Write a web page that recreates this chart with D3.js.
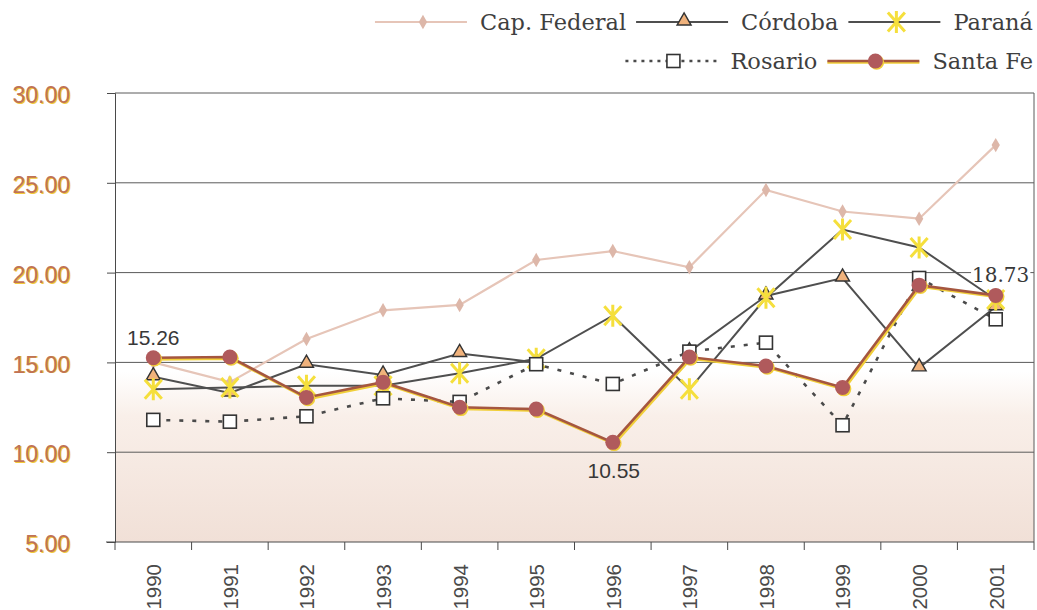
<!DOCTYPE html>
<html>
<head>
<meta charset="utf-8">
<script src="https://cdn.jsdelivr.net/npm/d3@7"></script>
<style>
  body { margin: 0; background: #fff; }
  svg { display: block; }
</style>
</head>
<body>
<svg id="chart" width="1037" height="610"></svg>
<script>
// Yearly values per city, 1990–2001
const years = ["1990", "1991", "1992", "1993", "1994", "1995", "1996", "1997", "1998", "1999", "2000", "2001"];
const capFederal = [15.0, 13.9, 16.3, 17.9, 18.2, 20.7, 21.2, 20.3, 24.6, 23.4, 23.0, 27.1];
const cordoba    = [14.2, 13.3, 14.9, 14.3, 15.5, 15.0, null, 15.6, 18.7, 19.7, 14.7, 18.1];
const parana     = [13.5, 13.6, 13.7, 13.7, 14.4, 15.2, 17.6, 13.5, 18.6, 22.4, 21.4, 18.5];
const rosario    = [11.8, 11.7, 12.0, 13.0, 12.8, 14.9, 13.8, 15.6, 16.1, 11.5, 19.7, 17.4];
const santaFe    = [15.26, 15.30, 13.05, 13.9, 12.5, 12.4, 10.55, 15.3, 14.8, 13.6, 19.3, 18.73];
const yTicks = [5, 10, 15, 20, 25, 30];
const labelledPoints = ["1990", "1996", "2001"];   // Santa Fe values printed on the chart

const svg = d3.select("#chart");
const plot = { left: 115, right: 1034, top: 93, bottom: 542 };

const x = d3.scalePoint().domain(years).range([plot.left, plot.right]).padding(0.5);
const band = d3.scaleBand().domain(years).range([plot.left, plot.right]);
const y = d3.scaleLinear().domain([5, 30]).range([plot.bottom, plot.top]);

// background shading of the plot area
const defs = svg.append("defs");
const grad = defs.append("linearGradient").attr("id", "plotBg")
  .attr("gradientUnits", "userSpaceOnUse")
  .attr("x1", 0).attr("x2", 0).attr("y1", plot.top).attr("y2", plot.bottom);
grad.append("stop").attr("offset", 0).attr("stop-color", "#ffffff");
grad.append("stop").attr("offset", 0.62).attr("stop-color", "#ffffff");
grad.append("stop").attr("offset", 0.72).attr("stop-color", "#f9efe9");
grad.append("stop").attr("offset", 1).attr("stop-color", "#f1e0d7");

svg.append("rect")
  .attr("x", plot.left).attr("y", plot.top)
  .attr("width", plot.right - plot.left).attr("height", plot.bottom - plot.top)
  .attr("fill", "url(#plotBg)");

// horizontal gridlines
svg.append("g").selectAll("line")
  .data(yTicks.filter(d => d > 5 && d < 30))
  .join("line")
  .attr("x1", plot.left).attr("x2", plot.right)
  .attr("y1", d => y(d)).attr("y2", d => y(d))
  .attr("stroke", "#5a5a5a").attr("stroke-width", 1);

// top and right frame
svg.append("path")
  .attr("d", `M${plot.left},${y(30)}H${plot.right}V${plot.bottom}`)
  .attr("fill", "none").attr("stroke", "#5a5a5a").attr("stroke-width", 1);

// y axis
const yAxis = svg.append("g")
  .attr("transform", `translate(${plot.left},0)`)
  .call(d3.axisLeft(y).tickValues(yTicks).tickFormat(d3.format(".2f")).tickSize(8).tickPadding(37));
yAxis.select(".domain").attr("stroke", "#4a4a4a");
yAxis.selectAll(".tick line").attr("stroke", "#4a4a4a");
yAxis.selectAll(".tick text")
  .attr("font-family", "Liberation Sans, Arial, sans-serif")
  .attr("font-size", 23)
  .attr("dy", "0.42em")
  .attr("fill", "#c07256")
  .each(function () {
    const c = this.cloneNode(true);
    d3.select(c).attr("fill", "#f2c93a").attr("transform", "translate(1.4,0.8)");
    this.parentNode.insertBefore(c, this);
  });

// x axis: labels at the points, ticks at the category boundaries
const xAxis = svg.append("g")
  .attr("transform", `translate(0,${plot.bottom})`)
  .call(d3.axisBottom(x).tickSize(0).tickPadding(0));
xAxis.select(".domain").remove();
xAxis.append("line")
  .attr("x1", plot.left - 9).attr("x2", plot.right)
  .attr("stroke", "#4a4a4a");
xAxis.selectAll(".tick text")
  .attr("font-family", "Liberation Sans, Arial, sans-serif")
  .attr("font-size", 20.5)
  .attr("fill", "#4a4a4a")
  .attr("text-anchor", "end")
  .attr("transform", "rotate(-90)")
  .attr("x", -22).attr("y", 0).attr("dy", "0.36em");
xAxis.append("g").selectAll("line")
  .data(years.map(d => band(d)).concat([plot.right]))
  .join("line")
  .attr("x1", d => d).attr("x2", d => d)
  .attr("y1", 0).attr("y2", 8)
  .attr("stroke", "#4a4a4a");

// marker shapes
const starPath = "M-8.5,-9.5L8.5,9.5M8.5,-9.5L-8.5,9.5M0,-11L0,11";
const series = [
  { name: "Cap. Federal", values: capFederal, line: "#e6c5b8", width: 2.2, dash: null,
    marker: g => g.append("path").attr("d", d3.symbol(d3.symbolDiamond, 60)()).attr("fill", "#ddb7a9") },
  { name: "Córdoba", values: cordoba, line: "#4f4f4f", width: 2, dash: null,
    marker: g => g.append("path").attr("d", d3.symbol(d3.symbolTriangle, 85)()).attr("transform", "translate(0,-1)")
      .attr("fill", "#f0b27c").attr("stroke", "#333").attr("stroke-width", 1.4) },
  { name: "Paraná", values: parana, line: "#4f4f4f", width: 2, dash: null,
    marker: g => g.append("path").attr("d", starPath).attr("fill", "none")
      .attr("stroke", "#f5df3c").attr("stroke-width", 3) },
  { name: "Rosario", values: rosario, line: "#4a4a4a", width: 2.6, dash: "4 9",
    marker: g => g.append("rect").attr("x", -6.5).attr("y", -6.5).attr("width", 13).attr("height", 13)
      .attr("fill", "#fff").attr("stroke", "#333").attr("stroke-width", 1.6) },
  { name: "Santa Fe", values: santaFe, line: "#a5563f", width: 2.6, dash: null, shadow: "#f1cf3a",
    marker: g => {
      g.append("circle").attr("r", 7.5).attr("cx", 1.3).attr("cy", 1.3).attr("fill", "#f1cf3a");
      g.append("circle").attr("r", 7.5).attr("fill", "#b05a5c");
    } }
];

const lineGen = d3.line()
  .defined(d => d.v != null)
  .x(d => x(d.year)).y(d => y(d.v));

series.forEach(s => {
  const pts = years.map((year, i) => ({ year, v: s.values[i] }));
  const g = svg.append("g");
  if (s.shadow) {
    g.append("path").datum(pts).attr("d", lineGen)
      .attr("fill", "none").attr("stroke", s.shadow).attr("stroke-width", s.width)
      .attr("transform", "translate(1.4,1.6)");
  }
  g.append("path").datum(pts).attr("d", lineGen)
    .attr("fill", "none").attr("stroke", s.line).attr("stroke-width", s.width)
    .attr("stroke-dasharray", s.dash);
  g.selectAll("g.m").data(pts.filter(d => d.v != null)).join("g")
    .attr("class", "m")
    .attr("transform", d => `translate(${x(d.year)},${y(d.v)})`)
    .each(function () { s.marker(d3.select(this)); });
});

// value labels on the Santa Fe series
const labelData = years.map((year, i) => ({ year, v: santaFe[i] }))
  .filter(d => labelledPoints.includes(d.year));
const labelPos = {
  "1990": { dx: 0, dy: -13, font: "Liberation Sans, Arial, sans-serif", bg: false },
  "1996": { dx: 1, dy: 36, font: "Liberation Sans, Arial, sans-serif", bg: false },
  "2001": { dx: 5, dy: -13, font: "DejaVu Serif, serif", bg: true }
};
const lg = svg.append("g");
labelData.forEach(d => {
  const p = labelPos[d.year];
  const t = lg.append("text")
    .attr("x", x(d.year) + p.dx).attr("y", y(d.v) + p.dy)
    .attr("text-anchor", "middle")
    .attr("font-family", p.font)
    .attr("font-size", p.bg ? 20 : 21)
    .attr("fill", "#383838")
    .text(d3.format(".2f")(d.v));
  if (p.bg) {
    // clear the gridline behind the text only
    const b = t.node().getBBox();
    lg.insert("rect", "text")
      .attr("x", b.x - 1).attr("y", y(20) - 3)
      .attr("width", b.width + 2).attr("height", 6)
      .attr("fill", "#fff");
  }
});

// legend, two right-aligned rows
const legendRows = [
  { y: 22, items: [series[0], series[1], series[2]] },
  { y: 61, items: [series[3], series[4]] }
];
const legend = svg.append("g");
legendRows.forEach(row => {
  let cursor = 1033;
  row.items.slice().reverse().forEach(s => {
    const t = legend.append("text")
      .attr("x", cursor).attr("y", row.y + 8)
      .attr("text-anchor", "end")
      .attr("font-family", "DejaVu Serif, serif")
      .attr("font-size", 22.5)
      .attr("fill", "#3f3f3f")
      .text(s.name);
    const w = t.node().getComputedTextLength();
    const x2 = cursor - w - 13, x1 = x2 - 92;
    if (s.shadow) {
      legend.append("line").attr("x1", x1).attr("x2", x2).attr("y1", row.y + 1.5).attr("y2", row.y + 1.5)
        .attr("stroke", s.shadow).attr("stroke-width", s.width);
    }
    legend.append("line").attr("x1", x1).attr("x2", x2).attr("y1", row.y).attr("y2", row.y)
      .attr("stroke", s.line).attr("stroke-width", s.width)
      .attr("stroke-dasharray", s.dash ? "3 5" : null);
    const m = legend.append("g").attr("transform", `translate(${(x1 + x2) / 2 + 2},${row.y})`);
    s.marker(m);
    cursor = x1 - 10;
  });
});
</script>
</body>
</html>
